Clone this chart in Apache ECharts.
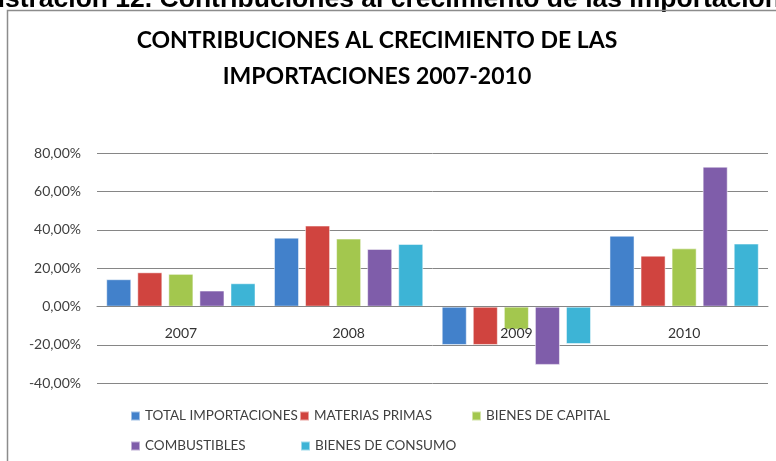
<!DOCTYPE html>
<html>
<head>
<meta charset="utf-8">
<script src="https://cdn.jsdelivr.net/npm/echarts@6/dist/echarts.min.js"></script>
<style>
  html, body { margin: 0; padding: 0; background: #ffffff; }
  #chart { width: 776px; height: 461px; }
</style>
</head>
<body>
<div id="chart"></div>
<script>
// Years on the category axis
const years = ['2007', '2008', '2009', '2010'];

// Contribution to import growth, percent
const totalImportaciones = [14.3, 36.0, -20.0, 37.0];
const materiasPrimas     = [17.9, 42.3, -20.0, 26.6];
const bienesCapital      = [17.1, 35.5, -12.0, 30.4];
const combustibles       = [8.4, 30.1, -30.4, 73.0];
const bienesConsumo      = [12.2, 32.7, -19.5, 32.9];

// Value axis ticks
const yMin = -40, yMax = 80, yStep = 20;

const seriesNames = ['TOTAL IMPORTACIONES', 'MATERIAS PRIMAS', 'BIENES DE CAPITAL', 'COMBUSTIBLES', 'BIENES DE CONSUMO'];
const seriesData = [totalImportaciones, materiasPrimas, bienesCapital, combustibles, bienesConsumo];
const colors = ['#4281CB', '#D0443F', '#A3C74E', '#7F5DAA', '#3DB4D6'];

const labelFont = 'Lato';
const chart = echarts.init(document.getElementById('chart'), null, { renderer: 'canvas' });

// Plot area
const gridTop = 153.3, gridBottom = 77.7, chartH = 461;
const plotH = chartH - gridTop - gridBottom;
// The category axis sits on the zero line
const zeroOffset = -plotH * (0 - yMin) / (yMax - yMin);

// Legend laid out in a 3-column grid, two rows
const legendPos = [
  { left: 130, top: 409 },
  { left: 299, top: 409 },
  { left: 471, top: 409 },
  { left: 130, top: 439 },
  { left: 300, top: 439 }
];

const option = {
  backgroundColor: '#ffffff',
  animation: false,
  color: colors,
  title: {
    text: 'CONTRIBUCIONES AL CRECIMIENTO DE LAS\nIMPORTACIONES 2007-2010',
    left: 372,
    top: 18,
    textAlign: 'center',
    textStyle: {
      fontFamily: labelFont,
      fontWeight: 'bold',
      fontSize: 23,
      lineHeight: 36,
      color: '#000000'
    }
  },
  legend: seriesNames.map((n, i) => ({
    data: [n],
    left: legendPos[i].left,
    top: legendPos[i].top,
    icon: 'rect',
    itemWidth: 9,
    itemHeight: 9,
    padding: 0,
    selectedMode: false,
    textStyle: { fontFamily: labelFont, fontSize: 13.5, color: '#404040' }
  })),
  grid: { left: 97, right: 8, top: gridTop, bottom: gridBottom, containLabel: false },
  xAxis: {
    type: 'category',
    data: years,
    offset: zeroOffset,
    axisLine: { onZero: false, lineStyle: { color: '#868686', width: 1 } },
    axisTick: { show: false },
    axisLabel: { margin: 20, fontFamily: labelFont, fontSize: 14, color: '#333333' },
    z: 10
  },
  yAxis: {
    type: 'value',
    min: yMin,
    max: yMax,
    interval: yStep,
    axisLine: { show: false },
    axisTick: { show: false },
    splitLine: { lineStyle: { color: '#868686', width: 1 } },
    axisLabel: {
      margin: 16,
      fontFamily: labelFont,
      fontSize: 14,
      color: '#404040',
      formatter: v => v.toFixed(2).replace('.', ',') + '%'
    }
  },
  series: seriesNames.map((n, i) => ({
    name: n,
    type: 'bar',
    data: seriesData[i],
    barGap: '24%',
    barCategoryGap: '11%',
    itemStyle: { color: colors[i], borderColor: 'rgba(255,255,255,0.5)', borderWidth: 1 }
  })),
  graphic: [
    {
      type: 'text',
      left: -26,
      top: -14,
      z: 100,
      style: {
        text: 'Ilustración 12. Contribuciones al crecimiento de las importaciones',
        font: 'bold 26.5px "Liberation Sans"',
        fill: '#000000'
      }
    },
    {
      type: 'rect',
      shape: { x: 7.5, y: 10.5, width: 800, height: 500 },
      style: { fill: 'none', stroke: '#8c8c8c', lineWidth: 1.5 },
      z: 100
    }
  ]
};

chart.setOption(option);
</script>
</body>
</html>
